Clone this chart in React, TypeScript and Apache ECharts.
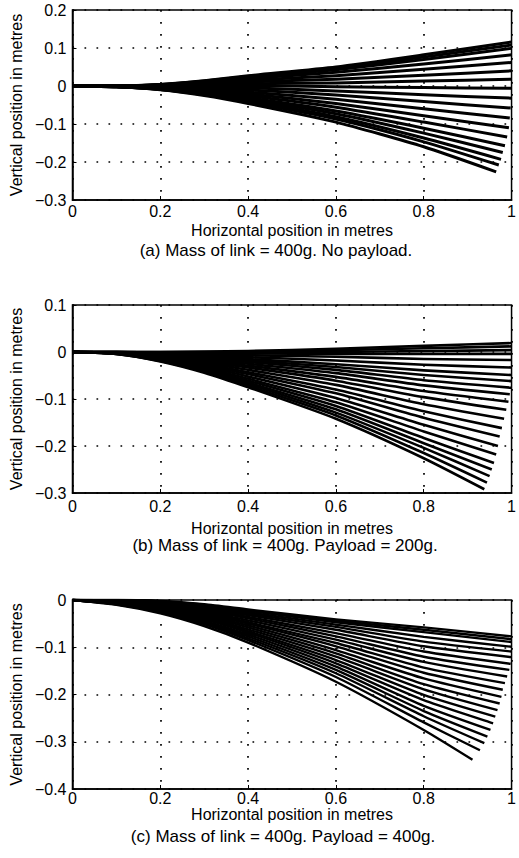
import React, { useEffect, useRef } from "react";
import * as echarts from "echarts";

// Horizontal stations (m) at which every link profile is sampled; each profile
// then ends at its own tip point.
const X_STATIONS = [0, 0.1, 0.2, 0.3, 0.4, 0.6, 0.8];
const X_TICKS = [0, 0.2, 0.4, 0.6, 0.8, 1];

// (a) Mass of link = 400g, no payload
const A_PROFILES = [
  [0, 0, 0.004, 0.014, 0.027, 0.05, 0.082],
  [0, 0, 0.004, 0.013, 0.025, 0.047, 0.076],
  [0, 0, 0.003, 0.012, 0.023, 0.043, 0.07],
  [0, 0, 0.003, 0.01, 0.02, 0.036, 0.058],
  [0, 0, 0.002, 0.008, 0.015, 0.027, 0.044],
  [0, 0, 0.001, 0.005, 0.011, 0.018, 0.028],
  [0, 0, 0.0, 0.003, 0.006, 0.008, 0.013],
  [0, -0.001, -0.001, 0.0, 0.001, -0.002, -0.004],
  [0, -0.001, -0.002, -0.003, -0.005, -0.013, -0.023],
  [0, -0.001, -0.003, -0.006, -0.01, -0.024, -0.041],
  [0, -0.001, -0.004, -0.009, -0.016, -0.035, -0.06],
  [0, -0.001, -0.005, -0.012, -0.021, -0.046, -0.078],
  [0, -0.001, -0.006, -0.015, -0.026, -0.056, -0.095],
  [0, -0.002, -0.007, -0.017, -0.031, -0.066, -0.111],
  [0, -0.002, -0.008, -0.019, -0.035, -0.073, -0.124],
  [0, -0.002, -0.009, -0.021, -0.039, -0.081, -0.137],
  [0, -0.002, -0.009, -0.023, -0.042, -0.087, -0.147],
  [0, -0.002, -0.01, -0.025, -0.046, -0.095, -0.16],
];
const A_TIP_X = [1, 1, 1, 1, 1, 1, 1, 1, 1, 0.998, 0.996, 0.994, 0.99, 0.985, 0.98, 0.976, 0.971, 0.965];
const A_TIP_Y = [0.116, 0.108, 0.099, 0.082, 0.062, 0.04, 0.018, -0.006, -0.032, -0.058, -0.084, -0.11, -0.134, -0.157, -0.175, -0.193, -0.208, -0.226];

// (b) Mass of link = 400g, payload = 200g
const B_PROFILES = [
  [0, 0, 0.0, 0.001, 0.002, 0.007, 0.013],
  [0, 0, 0.0, 0.0, 0.0, 0.004, 0.008],
  [0, 0, -0.001, -0.001, -0.002, 0.0, 0.002],
  [0, 0, -0.001, -0.002, -0.003, -0.004, -0.004],
  [0, 0, -0.002, -0.004, -0.007, -0.01, -0.015],
  [0, -0.001, -0.003, -0.007, -0.011, -0.018, -0.027],
  [0, -0.001, -0.004, -0.009, -0.015, -0.026, -0.039],
  [0, -0.001, -0.005, -0.011, -0.018, -0.032, -0.049],
  [0, -0.001, -0.006, -0.013, -0.021, -0.038, -0.06],
  [0, -0.001, -0.007, -0.015, -0.025, -0.045, -0.071],
  [0, -0.002, -0.008, -0.017, -0.029, -0.053, -0.083],
  [0, -0.002, -0.009, -0.02, -0.033, -0.061, -0.096],
  [0, -0.002, -0.01, -0.022, -0.038, -0.07, -0.111],
  [0, -0.002, -0.012, -0.025, -0.043, -0.08, -0.126],
  [0, -0.003, -0.013, -0.028, -0.047, -0.088, -0.14],
  [0, -0.003, -0.014, -0.031, -0.052, -0.098, -0.155],
  [0, -0.003, -0.015, -0.033, -0.057, -0.107, -0.169],
  [0, -0.003, -0.016, -0.036, -0.061, -0.115, -0.183],
  [0, -0.003, -0.017, -0.038, -0.065, -0.122, -0.194],
  [0, -0.004, -0.018, -0.04, -0.068, -0.129, -0.204],
  [0, -0.004, -0.019, -0.042, -0.072, -0.135, -0.215],
  [0, -0.004, -0.02, -0.044, -0.075, -0.142, -0.226],
];
const B_TIP_X = [1, 1, 1, 1, 1, 1, 1, 1, 1, 0.996, 0.993, 0.988, 0.983, 0.978, 0.973, 0.969, 0.965, 0.96, 0.955, 0.95, 0.944, 0.938];
const B_TIP_Y = [0.019, 0.012, 0.004, -0.004, -0.017, -0.033, -0.049, -0.062, -0.076, -0.09, -0.106, -0.123, -0.142, -0.162, -0.18, -0.2, -0.218, -0.236, -0.25, -0.264, -0.278, -0.292];

// (c) Mass of link = 400g, payload = 400g
const C_PROFILES = [
  [0, 0, -0.002, -0.009, -0.02, -0.041, -0.058],
  [0, 0, -0.003, -0.01, -0.022, -0.044, -0.063],
  [0, 0, -0.003, -0.011, -0.023, -0.047, -0.068],
  [0, -0.001, -0.004, -0.013, -0.026, -0.052, -0.078],
  [0, -0.001, -0.005, -0.015, -0.029, -0.057, -0.088],
  [0, -0.002, -0.006, -0.017, -0.032, -0.063, -0.098],
  [0, -0.002, -0.008, -0.019, -0.036, -0.07, -0.109],
  [0, -0.003, -0.009, -0.022, -0.039, -0.077, -0.12],
  [0, -0.003, -0.01, -0.024, -0.043, -0.084, -0.131],
  [0, -0.004, -0.012, -0.026, -0.047, -0.091, -0.143],
  [0, -0.004, -0.013, -0.029, -0.05, -0.098, -0.154],
  [0, -0.005, -0.015, -0.032, -0.054, -0.106, -0.166],
  [0, -0.005, -0.016, -0.034, -0.058, -0.113, -0.178],
  [0, -0.006, -0.018, -0.037, -0.062, -0.12, -0.189],
  [0, -0.007, -0.019, -0.039, -0.066, -0.127, -0.201],
  [0, -0.007, -0.02, -0.041, -0.069, -0.134, -0.212],
  [0, -0.008, -0.022, -0.044, -0.073, -0.141, -0.224],
  [0, -0.008, -0.023, -0.046, -0.077, -0.148, -0.235],
  [0, -0.009, -0.025, -0.049, -0.081, -0.155, -0.246],
  [0, -0.009, -0.026, -0.051, -0.085, -0.163, -0.259],
  [0, -0.01, -0.028, -0.055, -0.09, -0.173, -0.275],
];
const C_TIP_X = [1, 1, 1, 1, 1, 1, 0.998, 0.995, 0.99, 0.985, 0.98, 0.977, 0.973, 0.968, 0.963, 0.958, 0.952, 0.945, 0.938, 0.928, 0.911];
const C_TIP_Y = [-0.077, -0.083, -0.089, -0.099, -0.109, -0.121, -0.135, -0.148, -0.162, -0.176, -0.19, -0.205, -0.219, -0.233, -0.247, -0.261, -0.275, -0.289, -0.303, -0.318, -0.338];

const Y_RANGES = [
  { min: -0.3, max: 0.2 },
  { min: -0.3, max: 0.1 },
  { min: -0.4, max: 0 },
];

const CAPTIONS = [
  "(a) Mass of link = 400g. No payload.",
  "(b) Mass of link = 400g. Payload = 200g.",
  "(c) Mass of link = 400g. Payload = 400g.",
];

const X_NAME = "Horizontal position in metres";
const Y_NAME = "Vertical position in metres";

const FONT = "'Liberation Sans', Arial, Helvetica, sans-serif";

// Panel layout
const GRIDS = [
  { left: 66, top: 10, width: 450, height: 190 },
  { left: 66, top: 305, width: 450, height: 188 },
  { left: 65, top: 600, width: 451, height: 189 },
];
const X_NAME_GAP = [22, 27, 15];
const X_LABEL_MARGIN = [3, 5, 1];
const CAPTION_POS = [
  { x: 276, y: 250 },
  { x: 285, y: 545 },
  { x: 283, y: 836 },
];

const fmt = (v: number) => {
  const r = Math.round(v * 10) / 10;
  if (r === 0) return "0";
  if (r === 1) return "1";
  return r.toFixed(1).replace("-", "\u2212");
};

function profileSeries(
  profiles: number[][],
  tipX: number[],
  tipY: number[],
  axisIndex: number,
  width: number
) {
  return profiles.map((p, i) => ({
    type: "line",
    xAxisIndex: axisIndex,
    yAxisIndex: axisIndex,
    data: X_STATIONS.map((x, j) => [x, p[j]]).concat([[tipX[i], tipY[i]]]),
    showSymbol: false,
    symbol: "none",
    smooth: 0.2,
    lineStyle: { color: "#000", width, cap: "butt", join: "round" },
    silent: true,
    z: 3,
  }));
}

export default function App() {
  const ref = useRef<HTMLDivElement>(null);

  useEffect(() => {
    document.body.style.margin = "0";
    if (!ref.current) return;
    const chart = echarts.init(ref.current, null, { renderer: "svg" });

    const dotted = { color: "#000", width: 1.7, type: [1.7, 10.3] };
    const textStyle = { fontFamily: FONT, fontSize: 16, color: "#000" };

    const xAxes = GRIDS.map((_, i) => ({
      type: "value",
      gridIndex: i,
      min: 0,
      max: 1,
      interval: 0.2,
      name: X_NAME,
      nameLocation: "middle",
      nameGap: X_NAME_GAP[i],
      nameTextStyle: textStyle,
      axisLine: { show: true, onZero: false, lineStyle: { color: "#000", width: 1.5 } },
      axisTick: { show: true, inside: true, length: 4, lineStyle: { color: "#000" } },
      axisLabel: {
        ...textStyle,
        margin: X_LABEL_MARGIN[i],
        formatter: (v: number) => (X_TICKS.some((t) => Math.abs(t - v) < 1e-6) ? fmt(v) : ""),
      },
      splitLine: { show: true, lineStyle: dotted },
    }));

    const yAxes = GRIDS.map((_, i) => ({
      type: "value",
      gridIndex: i,
      min: Y_RANGES[i].min,
      max: Y_RANGES[i].max,
      interval: 0.1,
      name: Y_NAME,
      nameLocation: "middle",
      nameGap: 40,
      nameTextStyle: textStyle,
      axisLine: { show: true, onZero: false, lineStyle: { color: "#000", width: 1.5 } },
      axisTick: { show: true, inside: true, length: 4, lineStyle: { color: "#000" } },
      axisLabel: { ...textStyle, margin: 6, formatter: fmt },
      splitLine: { show: true, lineStyle: dotted },
    }));

    const option = {
      animation: false,
      backgroundColor: "#fff",
      grid: GRIDS.map((g) => ({
        ...g,
        show: true,
        borderColor: "#000",
        borderWidth: 1.5,
        backgroundColor: "transparent",
      })),
      xAxis: xAxes,
      yAxis: yAxes,
      series: [
        ...profileSeries(A_PROFILES, A_TIP_X, A_TIP_Y, 0, 3),
        ...profileSeries(B_PROFILES, B_TIP_X, B_TIP_Y, 1, 2.6),
        ...profileSeries(C_PROFILES, C_TIP_X, C_TIP_Y, 2, 2.4),
      ],
      graphic: CAPTIONS.map((text, i) => ({
        type: "text",
        x: CAPTION_POS[i].x,
        y: CAPTION_POS[i].y,
        style: {
          text,
          textAlign: "center",
          textVerticalAlign: "middle",
          fontFamily: FONT,
          fontSize: 17,
          fill: "#000",
        },
      })),
    };

    chart.setOption(option as any);
    return () => chart.dispose();
  }, []);

  return <div ref={ref} style={{ width: 519, height: 858 }} />;
}
